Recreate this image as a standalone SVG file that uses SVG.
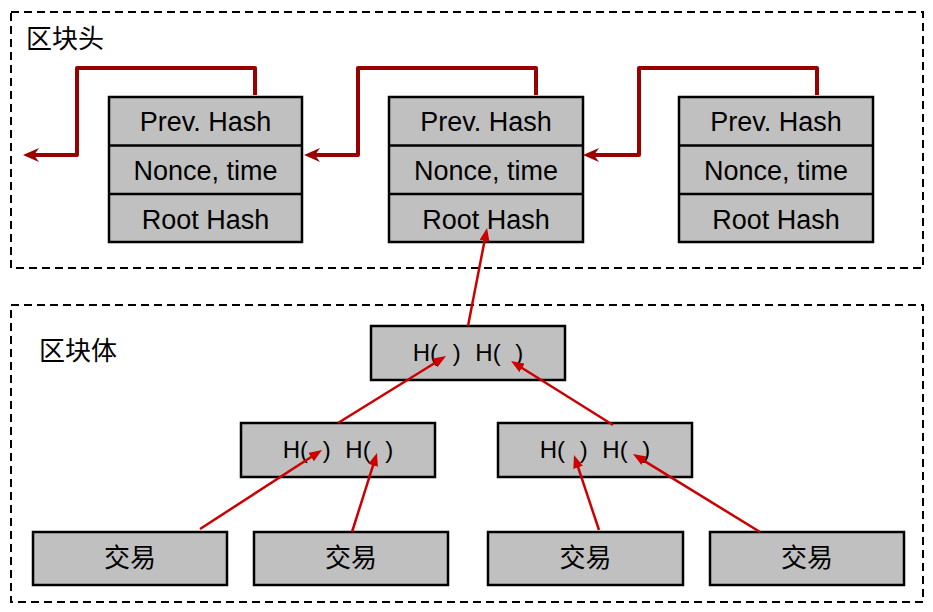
<svg xmlns="http://www.w3.org/2000/svg" width="933" height="612" viewBox="0 0 933 612">
<style>
.frame{fill:none;stroke:#000;stroke-width:2;stroke-dasharray:8 5}
.box{fill:#c0c0c0;stroke:#000;stroke-width:2.5}
.sep{stroke:#000;stroke-width:2.5}
.t{font-family:"Liberation Sans",Arial,sans-serif;font-size:27px;fill:#000;text-anchor:middle}
.h{font-family:"Liberation Sans",Arial,sans-serif;font-size:24px;fill:#000;text-anchor:middle;word-spacing:8px}
.cn{font-family:"Noto Sans CJK SC","Liberation Sans",sans-serif;font-size:26px;fill:#000}
.chain{fill:none;stroke:#990000;stroke-width:4;stroke-linejoin:round}
.link{fill:none;stroke:#cc0000;stroke-width:2.5}
</style>
<defs>
<marker id="mchain" viewBox="0 0 16 14" refX="6" refY="7" markerWidth="16" markerHeight="14" markerUnits="userSpaceOnUse" orient="auto">
<path d="M16,7 L0,0 L5,7 L0,14 Z" fill="#990000"/>
</marker>
<marker id="mlink" viewBox="0 0 13 10" refX="7" refY="5" markerWidth="13" markerHeight="10" markerUnits="userSpaceOnUse" orient="auto">
<path d="M0,0 L13,5 L0,10 Z" fill="#cc0000"/>
</marker>
</defs>
<rect width="933" height="612" fill="#fff"/>
<g id="header-frame">
<rect class="frame" x="11" y="12" width="912" height="256"/>
<text class="cn" x="26" y="48" font-size="27">区块头</text>
</g>
<g id="body-frame">
<rect class="frame" x="11" y="305" width="912" height="297"/>
<text class="cn" x="39" y="360" font-size="27">区块体</text>
</g>
<g id="block1">
<rect class="box" x="109" y="97" width="193" height="145"/>
<line class="sep" x1="109" y1="145.5" x2="302" y2="145.5"/>
<line class="sep" x1="109" y1="194" x2="302" y2="194"/>
<text class="t" x="205.5" y="131">Prev. Hash</text>
<text class="t" x="205.5" y="180">Nonce, time</text>
<text class="t" x="205.5" y="229">Root Hash</text>
</g>
<g id="block2">
<rect class="box" x="389" y="97" width="194" height="145"/>
<line class="sep" x1="389" y1="145.5" x2="583" y2="145.5"/>
<line class="sep" x1="389" y1="194" x2="583" y2="194"/>
<text class="t" x="486" y="131">Prev. Hash</text>
<text class="t" x="486" y="180">Nonce, time</text>
<text class="t" x="486" y="229">Root Hash</text>
</g>
<g id="block3">
<rect class="box" x="679" y="97" width="194" height="145"/>
<line class="sep" x1="679" y1="145.5" x2="873" y2="145.5"/>
<line class="sep" x1="679" y1="194" x2="873" y2="194"/>
<text class="t" x="776" y="131">Prev. Hash</text>
<text class="t" x="776" y="180">Nonce, time</text>
<text class="t" x="776" y="229">Root Hash</text>
</g>
<g id="root">
<rect class="box" x="371" y="326" width="194" height="54"/>
<text class="h" x="468" y="361">H( ) H( )</text>
</g>
<g id="hash-left">
<rect class="box" x="241" y="423" width="194" height="54"/>
<text class="h" x="338" y="458">H( ) H( )</text>
</g>
<g id="hash-right">
<rect class="box" x="498" y="423" width="194" height="54"/>
<text class="h" x="595" y="458">H( ) H( )</text>
</g>
<g id="tx1">
<rect class="box" x="33" y="532" width="194" height="53"/>
<text class="cn" x="130" y="567" text-anchor="middle">交易</text>
</g>
<g id="tx2">
<rect class="box" x="254" y="532" width="194" height="53"/>
<text class="cn" x="351" y="567" text-anchor="middle">交易</text>
</g>
<g id="tx3">
<rect class="box" x="488" y="532" width="195" height="53"/>
<text class="cn" x="585.5" y="567" text-anchor="middle">交易</text>
</g>
<g id="tx4">
<rect class="box" x="710" y="532" width="194" height="53"/>
<text class="cn" x="807" y="567" text-anchor="middle">交易</text>
</g>
<g id="connectors">
<path class="chain" d="M255,95 L255,68 L77,68 L77,155 L33,155" marker-end="url(#mchain)"/>
<path class="chain" d="M536,95 L536,68 L358,68 L358,155 L314,155" marker-end="url(#mchain)"/>
<path class="chain" d="M817,95 L817,68 L639,68 L639,155 L593,155" marker-end="url(#mchain)"/>
<path class="link" d="M468,326 L485.9,233.9" marker-end="url(#mlink)"/>
<path class="link" d="M338,423 L440.9,359.2" marker-end="url(#mlink)"/>
<path class="link" d="M613,425 L516.1,364.2" marker-end="url(#mlink)"/>
<path class="link" d="M200,529 L317,453.3" marker-end="url(#mlink)"/>
<path class="link" d="M352,532 L375.2,458.7" marker-end="url(#mlink)"/>
<path class="link" d="M599,530 L575.9,460.7" marker-end="url(#mlink)"/>
<path class="link" d="M760,532 L638.1,457.1" marker-end="url(#mlink)"/>
</g>
</svg>
